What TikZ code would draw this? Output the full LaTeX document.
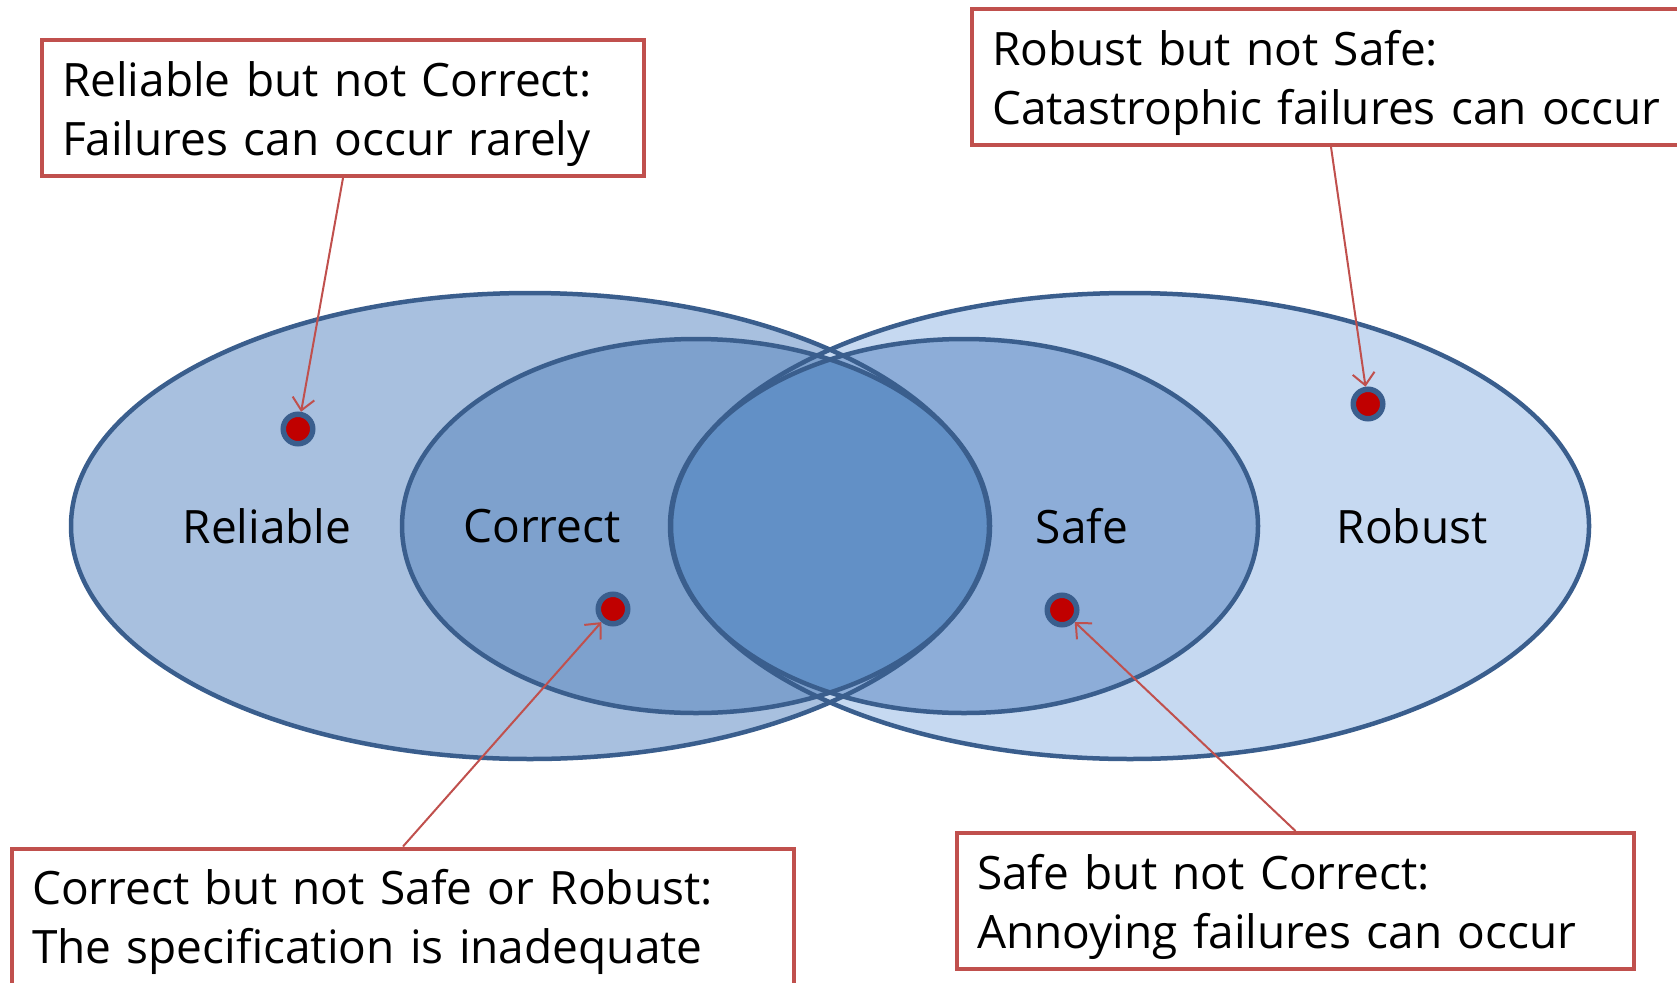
\documentclass[tikz,border=0pt]{standalone}
\usepackage{fontspec}
\setmainfont{Open Sans}
\usetikzlibrary{arrows.meta}
\definecolor{outl}{HTML}{3A5E8D}
\definecolor{relfill}{HTML}{A8C0DF}
\definecolor{robfill}{HTML}{C6D9F1}
\definecolor{corfill}{HTML}{7EA1CD}
\definecolor{saffill}{HTML}{8DADD8}
\definecolor{lensfill}{HTML}{6290C6}
\definecolor{boxred}{HTML}{C0504D}
\definecolor{dotred}{HTML}{C00000}
\newcommand\notestrut{\rule{0pt}{47pt}}
\begin{document}
\begin{tikzpicture}[x=1pt,y=-1pt,
  ell/.style={draw=outl,line width=4.5pt},
  lbl/.style={font=\fontsize{46}{52}\selectfont,inner sep=0pt},
  note/.style={draw=boxred,fill=white,line width=4pt,inner xsep=20pt,inner ysep=0pt,
    minimum height=136pt,align=left,font=\fontsize{46}{59}\selectfont},
  dot/.style={circle,fill=dotred,draw=outl,line width=5.5pt,minimum size=29.5pt,inner sep=0pt},
  arr/.style={draw=boxred,line width=2pt,-{Straight Barb[length=12pt,width=22pt]}}]
\useasboundingbox (0,0) rectangle (1677,982);
\begin{scope}
\clip (0,0) rectangle (1677,982);
% fills
\fill[relfill] (530,526) ellipse [x radius=459pt, y radius=233pt];
\fill[robfill] (1130,526) ellipse [x radius=459pt, y radius=233pt];
\fill[corfill] (696,526) ellipse [x radius=294pt, y radius=187pt];
\fill[saffill] (964,526) ellipse [x radius=294pt, y radius=187pt];
\begin{scope}
\clip (696,526) ellipse [x radius=294pt, y radius=187pt];
\fill[lensfill] (964,526) ellipse [x radius=294pt, y radius=187pt];
\end{scope}
% outlines
\draw[ell] (530,526) ellipse [x radius=459pt, y radius=233pt];
\draw[ell] (1130,526) ellipse [x radius=459pt, y radius=233pt];
\draw[ell] (696,526) ellipse [x radius=294pt, y radius=187pt];
\draw[ell] (964,526) ellipse [x radius=294pt, y radius=187pt];
% labels
\node[lbl] (lrel) at (267,526) {Reliable};
\node[lbl] (lcor) at (542,526) {Correct};
\node[lbl] (lsaf) at (1082,526) {Safe};
\node[lbl] (lrob) at (1412,526) {Robust};
% dots
\node[dot] (d1) at (298,429) {};
\node[dot] (d2) at (613,609) {};
\node[dot] (d3) at (1062,610) {};
\node[dot] (d4) at (1368,404) {};
% notes
\node[note,text width=562pt] (b1) at (343,108) {\notestrut Reliable but not Correct:\\Failures can occur rarely};
\node[note,text width=678pt] (b2) at (1331,77) {\notestrut Robust but not Safe:\\Catastrophic failures can occur};
\node[note,text width=742pt] (b3) at (403,916.5) {\notestrut Correct but not Safe or Robust:\\The specification is inadequate};
\node[note,text width=637pt] (b4) at (1295.5,901) {\notestrut Safe but not Correct:\\Annoying failures can occur};
% arrows
\draw[arr] (b1.south) -- (d1);
\draw[arr] (b2.south) -- (d4);
\draw[arr] (b3.north) -- (d2);
\draw[arr] (b4.north) -- (d3);
\end{scope}
\end{tikzpicture}
\end{document}
